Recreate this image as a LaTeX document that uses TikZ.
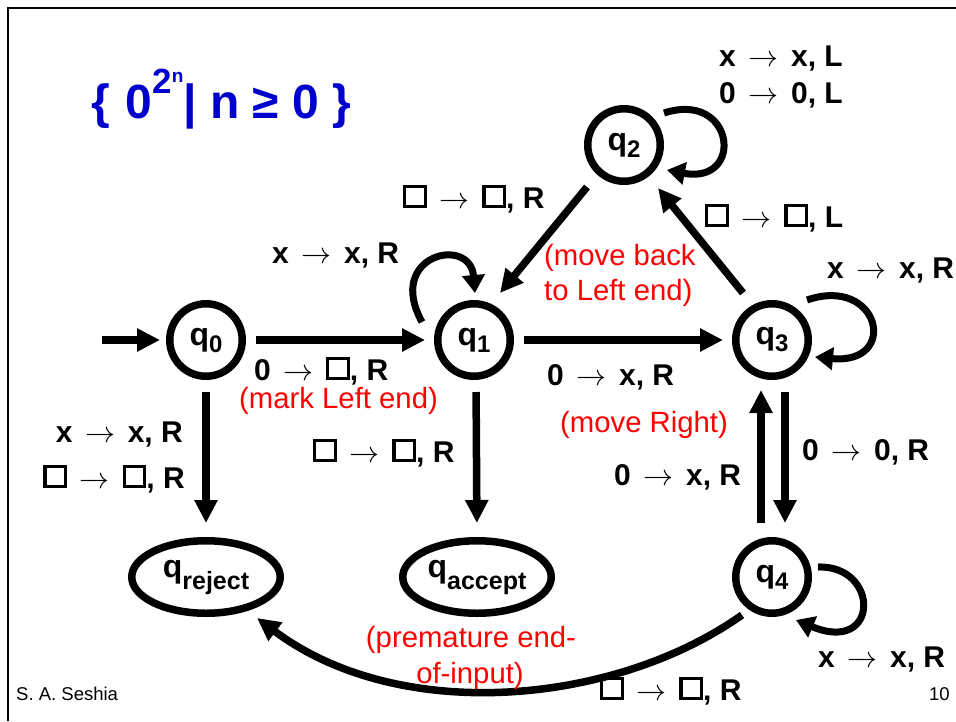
\RequirePackage{fix-cm}
\documentclass[tikz,border=0pt]{standalone}
\usepackage{fontspec}
\setmainfont{Liberation Sans}
\usetikzlibrary{arrows.meta,shapes.geometric,calc}
\definecolor{ttl}{RGB}{0,0,204}
\definecolor{notered}{RGB}{255,0,0}
\newcommand\bx{\raisebox{3.2pt}{\setlength\fboxrule{3.2pt}\setlength\fboxsep{0pt}\fbox{\rule{0pt}{16.5pt}\rule{17.5pt}{0pt}}}}
\newcommand\ar{\hspace{0.42em}$\rightarrow$\hspace{0.42em}}
\newcommand\lblfont{\fontsize{30}{36}\selectfont\bfseries}
\newcommand\notefont{\fontsize{29.3}{35}\selectfont}
\newcommand\qc[1]{q\raisebox{-7pt}{\fontsize{24}{24}\selectfont #1}}
\newcommand\qe[1]{q\raisebox{-12pt}{\fontsize{25}{25}\selectfont #1}}
\tikzset{
  st/.style={circle, draw, line width=7.5pt, minimum size=72.5pt, inner sep=0pt, font=\fontsize{32}{32}\selectfont\bfseries},
  fin/.style={ellipse, draw, line width=7.5pt, minimum width=148.5pt, minimum height=72.5pt, inner sep=0pt, font=\fontsize{32}{32}\selectfont\bfseries},
  arr/.style={line width=7.5pt, -{Triangle[length=23pt,width=22pt]}},
  larr/.style={line width=7pt, -{Triangle[length=18pt,width=22pt]}},
  gap/.style={shorten <=10pt, shorten >=9pt},
  lbl/.style={anchor=base west, inner sep=0pt, font=\lblfont},
  lble/.style={anchor=base east, inner sep=0pt, font=\lblfont},
  note/.style={anchor=base west, inner sep=0pt, font=\notefont, text=notered},
  notec/.style={anchor=base, inner sep=0pt, font=\notefont, text=notered}
}
\begin{document}
\begin{tikzpicture}[x=1pt,y=-1pt]
\useasboundingbox (0,0) rectangle (956,721);
\fill[white] (0,0) rectangle (956,721);
\draw[line width=2.5pt] (8,721) -- (8,8) -- (956,8);

\node[anchor=base west, inner sep=0pt, text=ttl, font=\fontsize{48}{52}\selectfont\bfseries] (title) at (91,118)
  {\{\hspace{0.05em} 0\raisebox{25pt}{\fontsize{35}{35}\selectfont 2}\raisebox{36pt}{\fontsize{19}{19}\selectfont n}| n ≥ 0 \}};

\node[st] (q0) at (206,340) {\qc{0}};
\node[st] (q1) at (474,340) {\qc{1}};
\node[st] (q2) at (624,145) {\qc{2}};
\node[st] (q3) at (772,340) {\qc{3}};
\node[st] (q4) at (772,577) {\qc{4}};
\node[fin] (qrej) at (206,577) {\qe{reject}};
\node[fin] (qacc) at (477,577) {\qe{accept}};

\coordinate (init) at (102,340);
\draw[arr, shorten >=6pt] (init) -- (q0);
\draw[arr, gap] (q0) -- (q1);
\draw[arr, gap] (q1) -- (q3);
\draw[arr] ($(q2)+(-37,42)$) -- ($(q1)+(26,-47)$);
\draw[arr] ($(q3)+(-29,-47)$) -- ($(q2)+(34,43)$);
\draw[arr, shorten <=12pt, shorten >=14pt] ([xshift=13pt]q3.south) -- ([xshift=13pt]q4.north);
\draw[arr, shorten <=14pt, shorten >=10pt] ([xshift=-11pt]q4.north) -- ([xshift=-11pt]q3.south);
\draw[arr, shorten <=12pt, shorten >=14pt] (q0) -- (qrej);
\draw[arr, shorten <=12pt, shorten >=14pt] ([xshift=2pt]q1.south) -- (qacc.north);

\draw[larr] ($(q1)+(-52,-18)$) .. controls ($(q1)+(-89,-85)$) and ($(q1)+(-4,-105)$) .. ($(q1)+(1,-47)$);
\draw[larr] ($(q2)+(40,-32)$) .. controls ($(q2)+(111,-55)$) and ($(q2)+(121,40)$) .. ($(q2)+(43,25)$);
\draw[larr] ($(q3)+(35,-40)$) .. controls ($(q3)+(108,-65)$) and ($(q3)+(128,25)$) .. ($(q3)+(43,17)$);
\draw[larr] ($(q4)+(46,-10)$) .. controls ($(q4)+(108,-12)$) and ($(q4)+(108,78)$) .. ($(q4)+(24,43)$);

\draw[arr] ($(q4)+(-30,38)$) .. controls (615,705) and (400,725) .. ($(qrej)+(51,41)$);

% labels
\node[lbl] (la) at (719,66) {x\ar x, L};
\node[lbl] (lb) at (719,103) {0\ar 0, L};
\node[lbl] (lc) at (403,208) {\bx\ar\bx, R};
\node[lbl] (ld) at (705,227) {\bx\ar\bx, L};
\node[lbl] (le) at (272,263) {x\ar x, R};
\node[lbl] (lf) at (827,278) {x\ar x, R};
\node[lbl] (lg) at (254,380) {0\ar\bx, R};
\node[lbl] (lh) at (547,385) {0\ar x, R};
\node[lbl] (li) at (614,485) {0\ar x, R};
\node[lbl] (lj) at (802,460) {0\ar 0, R};
\node[lble] (lk) at (183,442) {x\ar x, R};
\node[lble] (ll) at (185,488) {\bx\ar\bx, R};
\node[lbl] (lm) at (313,462) {\bx\ar\bx, R};
\node[lbl] (ln) at (600,700) {\bx\ar\bx, R};
\node[lbl] (lo) at (818,667) {x\ar x, R};

\node[note] (na) at (544,265) {(move back};
\node[note] (nb) at (544,300) {to Left end)};
\node[note] (nc) at (239,408) {(mark Left end)};
\node[note] (nd) at (560,432) {(move Right)};
\node[notec] (ne) at (471,647) {(premature end-};
\node[notec] (nf) at (470,683) {of-input)};

\node[anchor=base west, inner sep=0pt, font=\fontsize{18.5}{20}\selectfont] (auth) at (16,700) {S. A. Seshia};
\node[anchor=base west, inner sep=0pt, font=\fontsize{18.5}{20}\selectfont] (pg) at (929,700) {10};
\end{tikzpicture}
\end{document}
